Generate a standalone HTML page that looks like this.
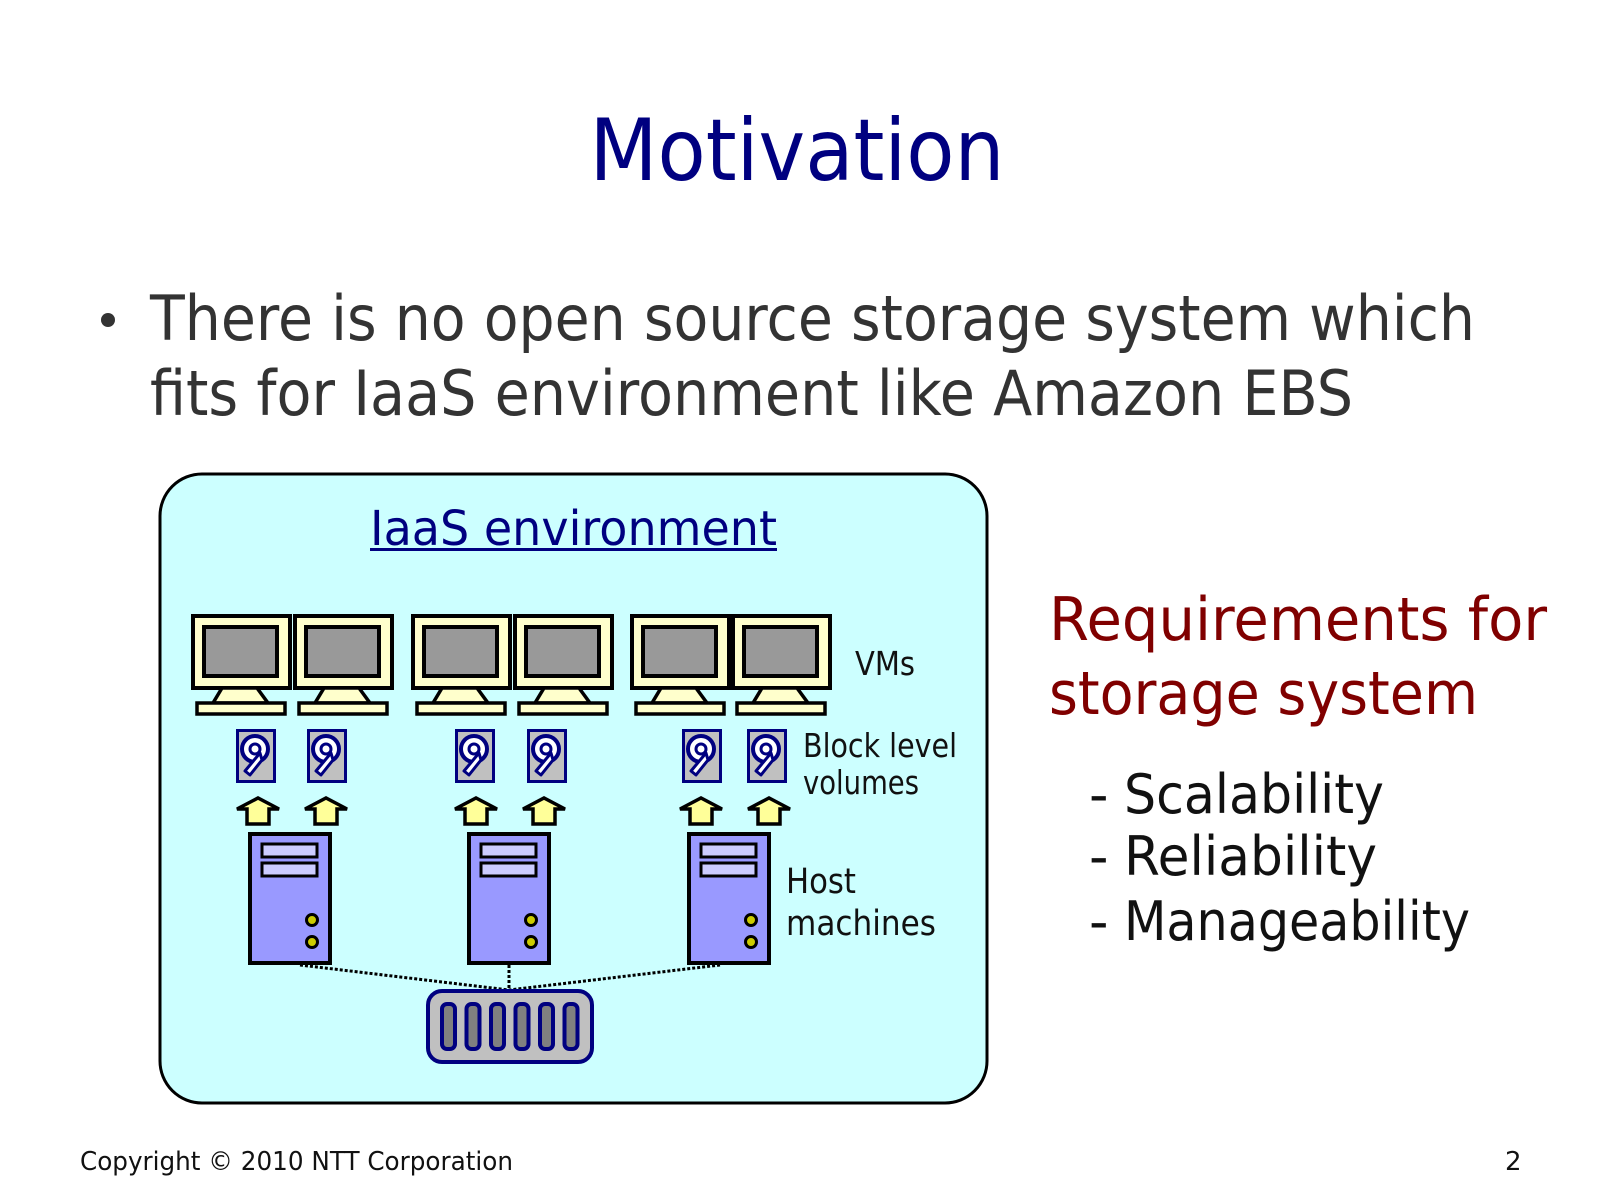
<!DOCTYPE html>
<html><head><meta charset="utf-8"><style>
html,body{margin:0;padding:0;background:#fff;}
svg{display:block;}
text{font-family:"DejaVu Sans","Liberation Sans",sans-serif;}
</style></head><body>
<svg width="1599" height="1199" viewBox="0 0 1599 1199" xmlns="http://www.w3.org/2000/svg">
<defs>
<g id="mon">
  <rect x="0" y="0" width="97" height="72" fill="#ffffcc" stroke="#000" stroke-width="4"/>
  <rect x="11" y="11" width="73" height="49" fill="#999" stroke="#000" stroke-width="4"/>
  <polygon points="29,72 64,72 75,87 20,87" fill="#ffffcc" stroke="#000" stroke-width="3.5"/>
  <rect x="4" y="87" width="88" height="11" fill="#ffffcc" stroke="#000" stroke-width="3.5"/>
</g>
<g id="disk">
  <rect x="1.5" y="1.5" width="37" height="51" fill="#c0c0c0" stroke="#000080" stroke-width="3"/>
  <circle cx="19" cy="20" r="13" fill="#fff" stroke="#000080" stroke-width="4"/>
  <circle cx="19" cy="20" r="5" fill="none" stroke="#000080" stroke-width="3"/>
  <path d="M24 24 L26 31 L14 46 L9 42 Z" fill="#fff" stroke="#000080" stroke-width="3" stroke-linejoin="round"/>
</g>
<g id="arr">
  <polygon points="11,27 11,12 1,12 22,1 43,12 33,12 33,27" fill="#ffff99" stroke="#000" stroke-width="3.5" stroke-linejoin="miter"/>
</g>
<g id="srv">
  <rect x="0" y="0" width="80" height="129" fill="#9999ff" stroke="#000" stroke-width="4"/>
  <rect x="12" y="10" width="55" height="13" fill="#ccccff" stroke="#000" stroke-width="3"/>
  <rect x="12" y="29" width="55" height="13" fill="#ccccff" stroke="#000" stroke-width="3"/>
  <circle cx="62" cy="86" r="5.5" fill="#cccc00" stroke="#000" stroke-width="3"/>
  <circle cx="62" cy="108" r="5.5" fill="#cccc00" stroke="#000" stroke-width="3"/>
</g>
</defs>

<text x="797" y="180" text-anchor="middle" font-size="86" fill="#000080" textLength="415" lengthAdjust="spacingAndGlyphs">Motivation</text>

<circle cx="108" cy="320" r="7" fill="#333"/>
<text x="150" y="340" font-size="62" fill="#333" textLength="1325" lengthAdjust="spacingAndGlyphs">There is no open source storage system which</text>
<text x="150" y="415" font-size="62" fill="#333" textLength="1203" lengthAdjust="spacingAndGlyphs">fits for IaaS environment like Amazon EBS</text>

<rect x="160" y="474" width="827" height="629" rx="42" ry="42" fill="#ccffff" stroke="#000" stroke-width="3"/>
<text x="370" y="545" font-size="48" fill="#000080" textLength="407" lengthAdjust="spacingAndGlyphs">IaaS environment</text>
<rect x="370" y="548" width="407" height="3" fill="#000080"/>

<use href="#mon" x="193" y="616"/>
<use href="#mon" x="295" y="616"/>
<use href="#mon" x="413" y="616"/>
<use href="#mon" x="515" y="616"/>
<use href="#mon" x="632" y="616"/>
<use href="#mon" x="733" y="616"/>

<use href="#disk" x="236" y="729"/>
<use href="#disk" x="307" y="729"/>
<use href="#disk" x="455" y="729"/>
<use href="#disk" x="527" y="729"/>
<use href="#disk" x="682" y="729"/>
<use href="#disk" x="747" y="729"/>

<use href="#arr" x="236" y="797"/>
<use href="#arr" x="304" y="797"/>
<use href="#arr" x="454" y="797"/>
<use href="#arr" x="522" y="797"/>
<use href="#arr" x="679" y="797"/>
<use href="#arr" x="747" y="797"/>

<g stroke="#000" stroke-width="3" stroke-dasharray="3,2" fill="none">
  <line x1="300" y1="965" x2="509" y2="990"/>
  <line x1="509" y1="965" x2="509" y2="990"/>
  <line x1="720" y1="965" x2="509" y2="990"/>
</g>

<use href="#srv" x="250" y="834"/>
<use href="#srv" x="469" y="834"/>
<use href="#srv" x="689" y="834"/>

<rect x="428" y="991" width="164" height="71" rx="14" ry="14" fill="#c0c0c0" stroke="#000080" stroke-width="4"/>
<g fill="#808080" stroke="#000080" stroke-width="4">
  <rect x="442" y="1004" width="13" height="45" rx="5"/>
  <rect x="466.5" y="1004" width="13" height="45" rx="5"/>
  <rect x="491" y="1004" width="13" height="45" rx="5"/>
  <rect x="515.5" y="1004" width="13" height="45" rx="5"/>
  <rect x="540" y="1004" width="13" height="45" rx="5"/>
  <rect x="564.5" y="1004" width="13" height="45" rx="5"/>
</g>

<g fill="#111" font-size="33">
  <text x="855" y="675" textLength="60" lengthAdjust="spacingAndGlyphs">VMs</text>
  <text x="803" y="757" textLength="154" lengthAdjust="spacingAndGlyphs">Block level</text>
  <text x="803" y="794" textLength="116" lengthAdjust="spacingAndGlyphs">volumes</text>
  <text x="786" y="893" font-size="35" textLength="70" lengthAdjust="spacingAndGlyphs">Host</text>
  <text x="786" y="935" font-size="35" textLength="150" lengthAdjust="spacingAndGlyphs">machines</text>
</g>

<text x="1049" y="640" font-size="60" fill="#800000" textLength="498" lengthAdjust="spacingAndGlyphs">Requirements for</text>
<text x="1049" y="714" font-size="60" fill="#800000" textLength="429" lengthAdjust="spacingAndGlyphs">storage system</text>

<g fill="#111" font-size="54">
  <text x="1089" y="813">-</text>
  <text x="1124" y="813" textLength="260" lengthAdjust="spacingAndGlyphs">Scalability</text>
  <text x="1089" y="875">-</text>
  <text x="1124" y="875" textLength="253" lengthAdjust="spacingAndGlyphs">Reliability</text>
  <text x="1089" y="940">-</text>
  <text x="1124" y="940" textLength="346" lengthAdjust="spacingAndGlyphs">Manageability</text>
</g>

<text x="80" y="1170" font-size="26" fill="#111" textLength="433" lengthAdjust="spacingAndGlyphs">Copyright © 2010 NTT Corporation</text>
<text x="1505" y="1170" font-size="26" fill="#111">2</text>
</svg>
</body></html>
